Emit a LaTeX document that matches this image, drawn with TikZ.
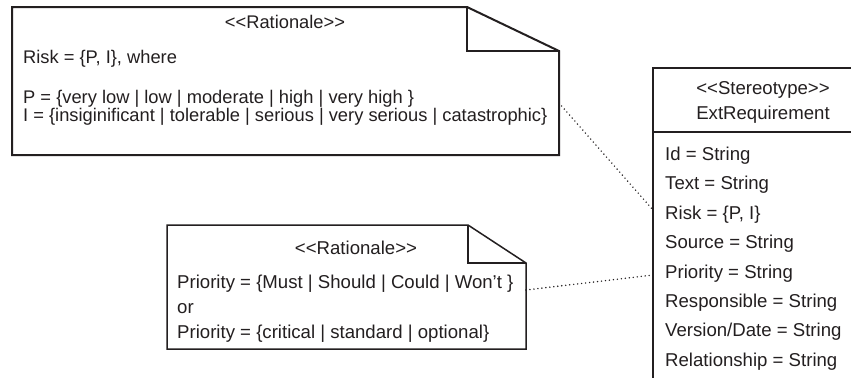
\documentclass[tikz,border=0pt]{standalone}
\usepackage{fontspec}
\setmainfont{Liberation Sans}
\usetikzlibrary{calc}
\definecolor{ink}{RGB}{35,31,32}
% stereotype guillemets written as two separate angle brackets
\newcommand\stereo[1]{<\kern0pt<#1>\kern0pt>}
\begin{document}
\begin{tikzpicture}[x=1pt,y=-1pt,
  txt/.style={inner sep=0pt, anchor=base west, text=ink, font=\fontsize{18.6}{22}\selectfont},
  bigtxt/.style={txt, font=\fontsize{18.3}{22}\selectfont},
  ttl/.style={txt, anchor=base},
  frame/.style={draw=none, inner sep=0pt, outer sep=0pt, anchor=north west},
  heavy/.style={draw=ink, line width=2pt, line join=miter},
  light/.style={draw=ink, line width=1.5pt, line join=miter},
  classline/.style={draw=ink, line width=1.4pt},
  link/.style={draw=ink, line width=1.6pt, line cap=round, dash pattern=on 0pt off 4pt}]
\fill[white] (0,0) rectangle (851,378);
\useasboundingbox (0,0) rectangle (851,378);

% ---- risk rationale note ----
\node[frame, minimum width=547pt, minimum height=148pt] (risknote) at (12,7) {};
\draw[heavy] (risknote.north west) -- ($(risknote.north east)+(-92,0)$)
  -- ($(risknote.north east)+(0,44)$) -- (risknote.south east)
  -- (risknote.south west) -- cycle;
\draw[heavy] ($(risknote.north east)+(-92,0)$) |- ($(risknote.north east)+(0,44)$);
\node[ttl, bigtxt, anchor=base] (risktitle) at (285,28) {\stereo{Rationale}};
\node[bigtxt] (riskdef) at (23,63) {Risk = \{P, I\}, where};
\node[bigtxt] (pdef) at (23,103) {P = \{very low | low | moderate | high | very high \}};
\node[bigtxt] (idef) at (23,121) {I = \{insiginificant | tolerable | serious | very serious | catastrophic\}};

% ---- priority rationale note ----
\node[frame, minimum width=359pt, minimum height=124pt] (prionote) at (167,225) {};
\draw[light] (prionote.north west) -- ($(prionote.north east)+(-58,0)$)
  -- ($(prionote.north east)+(0,38)$) -- (prionote.south east)
  -- (prionote.south west) -- cycle;
\draw[light] ($(prionote.north east)+(-58,0)$) |- ($(prionote.north east)+(0,38)$);
\node[ttl] (priotitle) at (356,254) {\stereo{Rationale}};
\node[txt] (prioa) at (177,288) {Priority = \{Must | Should | Could | Won’t \}};
\node[txt] (prioor) at (177,313) {or};
\node[txt] (priob) at (177,338) {Priority = \{critical | standard | optional\}};

% ---- ExtRequirement class ----
\node[frame, minimum width=198pt, minimum height=310pt] (classbox) at (653,68) {};
\draw[classline] (classbox.north east) -- (classbox.north west) -- (classbox.south west);
\draw[classline] ($(classbox.north west)+(0,64)$) -- ($(classbox.north east)+(0,64)$);
\node[ttl] (stereo) at (763,94) {\stereo{Stereotype}};
\node[ttl] (cname) at (763,119) {ExtRequirement};
\foreach \n/\t [count=\i from 0] in {aid/{Id = String}, atext/{Text = String},
    arisk/{Risk = \{P, I\}}, asource/{Source = String}, aprio/{Priority = String},
    aresp/{Responsible = String}, aver/{Version/Date = String}, arel/{Relationship = String}}
  \node[txt] (\n) at (665,160.5+29.4*\i) {\t};

% ---- dotted attachments ----
\coordinate (riskport) at ($(risknote.north east)+(0,96)$);
\coordinate (classrisk) at ($(classbox.north west)+(0,142)$);
\coordinate (prioport) at ($(prionote.north east)+(0,65)$);
\coordinate (classprio) at ($(classbox.north west)+(0,207)$);
\draw[link] (riskport) -- (classrisk);
\draw[link] (prioport) -- (classprio);
\end{tikzpicture}
\end{document}
